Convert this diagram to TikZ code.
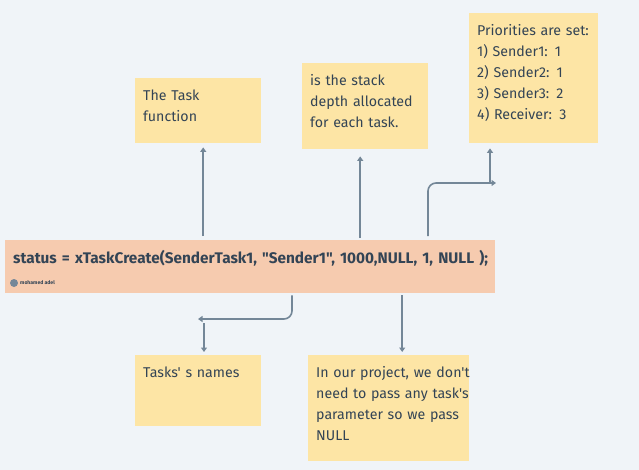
\documentclass[tikz,border=0pt]{standalone}
\usepackage{fontspec}
\setmainfont[Ligatures=TeXOff]{Fira Sans}
\usetikzlibrary{arrows.meta,shadows}
\definecolor{pagebg}{HTML}{F0F4F8}
\definecolor{notefill}{HTML}{FDE5A5}
\definecolor{mainfill}{HTML}{F6CBAF}
\definecolor{linkcol}{HTML}{748798}
\definecolor{inkcol}{HTML}{334455}
\newcommand{\longline}[1]{\makebox[0pt][l]{#1}}
\tikzset{
	note/.style={anchor=north west, fill=notefill, text=inkcol, inner xsep=8pt, inner ysep=0pt, align=left,
		font=\fontsize{14.2}{21}\selectfont, text height=22pt,
		general shadow={fill=black!12, shift={(0pt,-1pt)}, opacity=.5}},
	link/.style={draw=linkcol, line width=1.6pt, rounded corners=8pt, -{Triangle[width=6pt,length=4.5pt]}},
}
\begin{document}
\begin{tikzpicture}[x=1pt,y=-1pt]
	\useasboundingbox [fill=pagebg] (0,0) rectangle (639,470);
	% top notes
	\node (function) [note, text width=110pt, text depth=43pt] at (135,78) {The Task\\function};
	\node (depth) [note, text width=110pt, text depth=64pt] at (302,63) {is the stack\\depth allocated\\for each task.};
	\node (priority) [note, text width=113pt, text depth=108pt] at (469,13) {Priorities are set:\\1) Sender1: 1\\2) Sender2: 1\\3) Sender3: 2\\4) Receiver: 3};
	% call
	\node (call) [note, text width=474pt, text height=23pt, text depth=30pt, fill=mainfill, font=\fontsize{15.35}{20}\bfseries\selectfont] at (5,240) {\longline{status = xTaskCreate(SenderTask1, "Sender1", 1000,NULL, 1, NULL );}};
	\node (badge) [circle, fill=linkcol, inner sep=0pt, minimum size=8pt] at (14,283) {};
	\node (author) [anchor=west, inner sep=0pt, text=inkcol, font=\fontsize{5.1}{6}\bfseries\selectfont] at (20,283) {mohamed adel};
	% bottom notes
	\node (names) [note, text width=110pt, text depth=49pt] at (135,355) {Tasks' s names};
	\node (param) [note, text width=145pt, text depth=84pt] at (308,355) {\longline{In our project, we don't}\\\longline{need to pass any task's}\\parameter so we pass\\NULL};
	% links
	\coordinate (tipF) at ([xshift=5pt]function.south);
	\coordinate (tipD) at ([xshift=-5pt]depth.south);
	\coordinate (tipP) at ([xshift=13.5pt]param.north);
	\coordinate (upA) at (428,183);
	\coordinate (freeA) at (496,183);
	\coordinate (splitA) at (490,183);
	\coordinate (downB) at (292,319);
	\coordinate (freeB) at (198,319);
	\coordinate (splitB) at (204,319);
	\draw [link, shorten <=4pt, shorten >=4pt] (call.north -| tipF) -- (tipF);
	\draw [link, shorten <=2pt, shorten >=7pt] (call.north -| tipD) -- (tipD);
	\draw [link, shorten <=4pt] (call.north -| upA) -- (upA) -- (freeA);
	\draw [link, shorten >=5pt] (splitA) -- (priority.south -| splitA);
	\draw [link, shorten <=2pt] (call.south -| downB) -- (downB) -- (freeB);
	\draw [link, shorten <=4pt, shorten >=3pt] (splitB) -- (names.north -| splitB);
	\draw [link, shorten <=2pt, shorten >=3pt] (call.south -| tipP) -- (tipP);
\end{tikzpicture}
\end{document}
